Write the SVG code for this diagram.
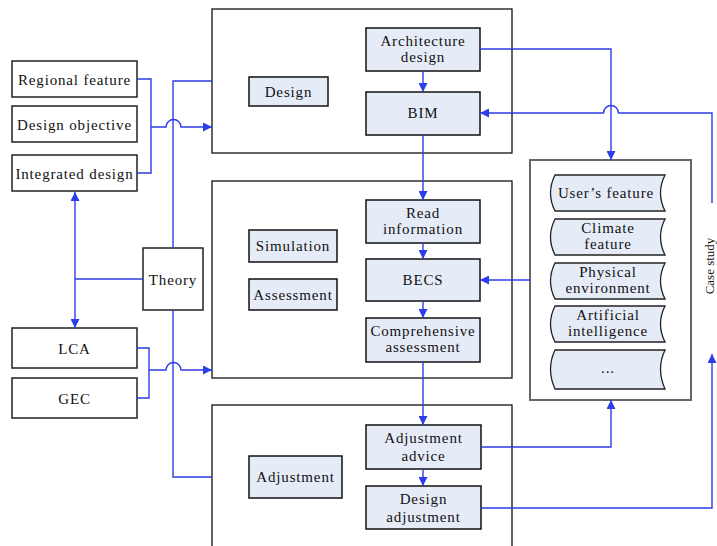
<svg xmlns="http://www.w3.org/2000/svg" width="717" height="546" viewBox="0 0 717 546">
<style>
text{font-family:"Liberation Serif","Times New Roman",serif;font-size:15px;fill:#111;letter-spacing:0.85px;text-anchor:middle}
.frame{fill:#fff;stroke:#111;stroke-width:1.3}
.node{fill:#e6ecf7;stroke:#111;stroke-width:1.5}
.wnode{fill:#fff;stroke:#222;stroke-width:1.5}
.case{fill:#fff;stroke:#666;stroke-width:2}
.tape{fill:#e6ecf7;stroke:#222;stroke-width:1.3}
.ln{fill:none;stroke:#2d3de8;stroke-width:1.4}
.cs{font-size:13px;letter-spacing:0}
</style>
<defs>
<marker id="ah" viewBox="0 0 10 10" refX="10" refY="5" markerWidth="10" markerHeight="9" markerUnits="userSpaceOnUse" orient="auto-start-reverse">
<path d="M0,0 L10,5 L0,10 z" fill="#2d3de8"/>
</marker>
</defs>

<g id="frame-design"><rect class="frame" x="212" y="9" width="300" height="144"/></g>
<g id="frame-simulation"><rect class="frame" x="212" y="181" width="300" height="197"/></g>
<g id="frame-adjustment"><rect class="frame" x="212" y="405" width="300" height="150"/></g>
<g id="case-box"><rect class="case" x="530" y="160" width="161" height="240"/></g>

<g id="regional-feature"><rect class="wnode" x="12" y="61" width="125" height="36"/><text x="74.5" y="84.5">Regional feature</text></g>
<g id="design-objective"><rect class="wnode" x="12" y="106" width="125" height="36"/><text x="74.5" y="129.5">Design objective</text></g>
<g id="integrated-design"><rect class="wnode" x="12" y="155" width="125" height="36"/><text x="74.5" y="178.5">Integrated design</text></g>
<g id="theory"><rect class="wnode" x="143" y="248" width="60" height="62"/><text x="173" y="284.5">Theory</text></g>
<g id="lca"><rect class="wnode" x="12" y="328" width="125" height="40"/><text x="74.5" y="353.5">LCA</text></g>
<g id="gec"><rect class="wnode" x="12" y="378" width="125" height="40"/><text x="74.5" y="403.5">GEC</text></g>

<g id="design"><rect class="node" x="249" y="77" width="79" height="29"/><text x="288.5" y="96.5">Design</text></g>
<g id="architecture-design"><rect class="node" x="366" y="28" width="114" height="43"/><text x="423" y="46">Architecture</text><text x="423" y="61.5">design</text></g>
<g id="bim"><rect class="node" x="366" y="92" width="114" height="43"/><text x="423" y="118">BIM</text></g>

<g id="simulation"><rect class="node" x="249" y="230" width="88" height="32"/><text x="293" y="251">Simulation</text></g>
<g id="assessment"><rect class="node" x="249" y="279" width="88" height="31"/><text x="293" y="300">Assessment</text></g>
<g id="read-information"><rect class="node" x="366" y="200" width="114" height="43"/><text x="423" y="218">Read</text><text x="423" y="233.5">information</text></g>
<g id="becs"><rect class="node" x="366" y="259" width="114" height="42"/><text x="423" y="285">BECS</text></g>
<g id="comprehensive-assessment"><rect class="node" x="366" y="318" width="114" height="44"/><text x="423" y="336">Comprehensive</text><text x="423" y="352">assessment</text></g>

<g id="adjustment"><rect class="node" x="249" y="456" width="93" height="42"/><text x="295.5" y="482">Adjustment</text></g>
<g id="adjustment-advice"><rect class="node" x="366" y="425" width="115" height="44"/><text x="423.5" y="443">Adjustment</text><text x="423.5" y="461">advice</text></g>
<g id="design-adjustment"><rect class="node" x="366" y="486" width="115" height="43"/><text x="423.5" y="504">Design</text><text x="423.5" y="522">adjustment</text></g>

<g id="users-feature"><path class="tape" d="M555,175 H665 Q656,193 665,211 H555 Q546,193 555,175 Z"/><text x="606" y="198">User’s feature</text></g>
<g id="climate-feature"><path class="tape" d="M555,219 H665 Q656,237 665,255 H555 Q546,237 555,219 Z"/><text x="608" y="233">Climate</text><text x="608" y="248.5">feature</text></g>
<g id="physical-environment"><path class="tape" d="M555,263 H665 Q656,281 665,299 H555 Q546,281 555,263 Z"/><text x="608" y="277">Physical</text><text x="608" y="292.5">environment</text></g>
<g id="artificial-intelligence"><path class="tape" d="M555,306 H665 Q656,324 665,342 H555 Q546,324 555,306 Z"/><text x="608" y="320">Artificial</text><text x="608" y="335.5">intelligence</text></g>
<g id="more"><path class="tape" d="M555,350 H665 Q656,369 665,389 H555 Q546,369 555,350 Z"/><text x="608" y="373">...</text></g>

<g id="case-study"><text class="cs" x="0" y="0" transform="translate(709,266) rotate(-90)" dominant-baseline="central">Case study</text></g>

<g id="connectors">
<path class="ln" d="M137,79 H151 V173 H137"/>
<path class="ln" d="M151,127 H166 A7.5,7.5 0 0 1 181,127 H212" marker-end="url(#ah)"/>
<path class="ln" d="M173,248 V81 H212"/>
<path class="ln" d="M173,310 V477 H212"/>
<path class="ln" d="M143,279 H75"/>
<path class="ln" d="M75,192 V328" marker-start="url(#ah)" marker-end="url(#ah)"/>
<path class="ln" d="M137,348 H149 V398 H137"/>
<path class="ln" d="M149,370 H166 A7.5,7.5 0 0 1 181,370 H212" marker-end="url(#ah)"/>
<path class="ln" d="M423,71 V92" marker-end="url(#ah)"/>
<path class="ln" d="M480,49 H611 V160" marker-end="url(#ah)"/>
<path class="ln" d="M712,203 V113 H618.5 A7.5,7.5 0 0 0 603.5,113 H480" marker-end="url(#ah)"/>
<path class="ln" d="M423,135 V200" marker-end="url(#ah)"/>
<path class="ln" d="M423,243 V259" marker-end="url(#ah)"/>
<path class="ln" d="M423,301 V318" marker-end="url(#ah)"/>
<path class="ln" d="M423,362 V425" marker-end="url(#ah)"/>
<path class="ln" d="M423,469 V486" marker-end="url(#ah)"/>
<path class="ln" d="M530,280 H480" marker-end="url(#ah)"/>
<path class="ln" d="M481,447 H611 V400" marker-end="url(#ah)"/>
<path class="ln" d="M481,508 H712 V354" marker-end="url(#ah)"/>
</g>
</svg>
